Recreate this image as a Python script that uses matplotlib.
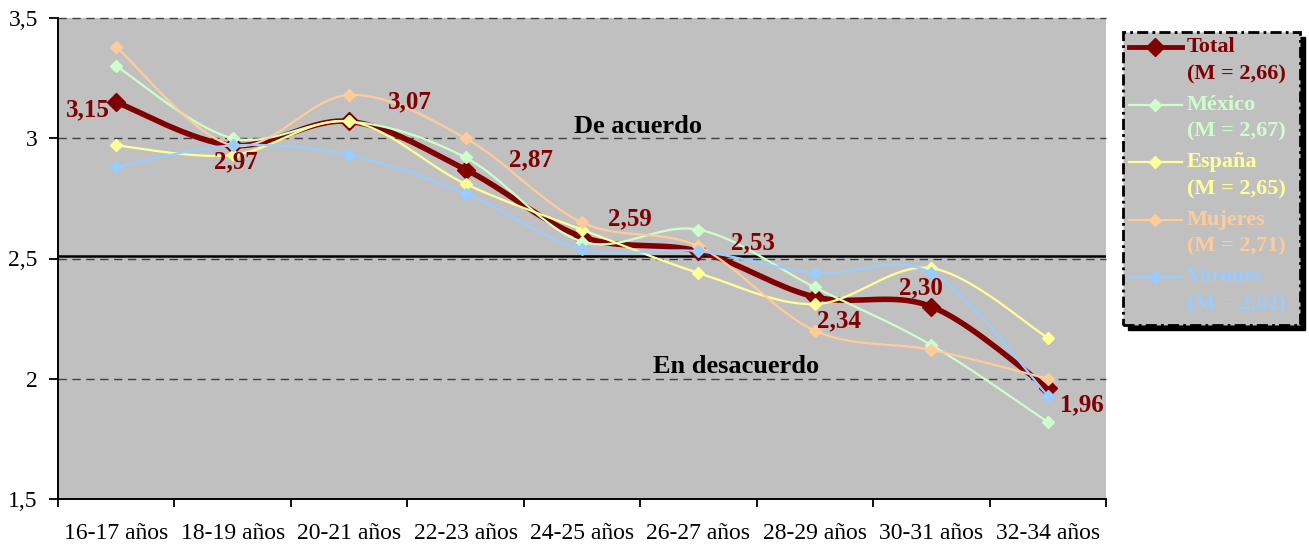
import numpy as np
import matplotlib.pyplot as plt
from matplotlib.patches import Rectangle

plt.rcParams['font.family'] = ['Liberation Serif', 'DejaVu Serif']

categories = ["16-17 años", "18-19 años", "20-21 años", "22-23 años", "24-25 años",
              "26-27 años", "28-29 años", "30-31 años", "32-34 años"]
total = [3.15, 2.97, 3.07, 2.87, 2.59, 2.53, 2.34, 2.30, 1.96]
mexico = [3.30, 3.00, 3.07, 2.92, 2.57, 2.62, 2.38, 2.14, 1.82]
espana = [2.97, 2.93, 3.07, 2.81, 2.62, 2.44, 2.31, 2.46, 2.17]
mujeres = [3.38, 2.97, 3.18, 3.00, 2.65, 2.55, 2.20, 2.12, 2.00]
varones = [2.88, 2.97, 2.93, 2.77, 2.54, 2.53, 2.44, 2.44, 1.93]
total_labels = ["3,15", "2,97", "3,07", "2,87", "2,59", "2,53", "2,34", "2,30", "1,96"]
legend_names = ["Total", "México", "España", "Mujeres", "Varones"]
legend_means = ["2,66", "2,67", "2,65", "2,71", "2,62"]

c_total = "#800000"
c_mex = "#CCFFCC"
c_esp = "#FFFF99"
c_muj = "#FFCC99"
c_var = "#99CCFF"


def smooth(y, n=20):
    # catmull-rom curve through the points, like excel's smoothed line
    y = np.asarray(y, float)
    x = np.arange(len(y), dtype=float)
    px = np.concatenate([[x[0]], x, [x[-1]]])
    py = np.concatenate([[y[0]], y, [y[-1]]])
    xs, ys = [], []
    t = np.linspace(0, 1, n, endpoint=False)
    for i in range(1, len(px) - 2):
        for P, out in ((px, xs), (py, ys)):
            p0, p1, p2, p3 = P[i - 1], P[i], P[i + 1], P[i + 2]
            b1 = p1 + (p2 - p0) / 6
            b2 = p2 - (p3 - p1) / 6
            out.extend((1 - t) ** 3 * p1 + 3 * (1 - t) ** 2 * t * b1
                       + 3 * (1 - t) * t ** 2 * b2 + t ** 3 * p2)
    xs.append(x[-1])
    ys.append(y[-1])
    return np.array(xs), np.array(ys)


fig = plt.figure(figsize=(13.09, 5.49), dpi=100)
ax = fig.add_axes([58 / 1309, 50 / 549, 1048 / 1309, 481 / 549])
ax.set_facecolor("#C0C0C0")

x = np.arange(len(categories))
for v in [3.5, 3.0, 2.5, 2.0]:
    ax.axhline(v, color="#404040", ls=(0, (6, 4)), lw=1, zorder=1, clip_on=False)
ax.axhline(2.512, color="black", lw=1.8, zorder=1)

sx, sy = smooth(total)
ax.plot(sx, sy, color=c_total, lw=4, zorder=2, solid_capstyle="round")
ax.plot(x, total, ls="none", marker="D", ms=9, color=c_total, zorder=2)
for vals, col in [(mexico, c_mex), (espana, c_esp), (mujeres, c_muj), (varones, c_var)]:
    sx, sy = smooth(vals)
    ax.plot(sx, sy, color=col, lw=1.6, zorder=3)
    ax.plot(x, vals, ls="none", marker="D", ms=6, color=col, zorder=3)

offsets = [(-0.24, -0.033), (0.03, -0.07), (0.52, 0.08), (0.56, 0.04), (0.41, 0.077),
           (0.47, 0.037), (0.21, -0.10), (-0.09, 0.08), (0.29, -0.07)]
for i, (lab, (dx, dy)) in enumerate(zip(total_labels, offsets)):
    ax.text(x[i] + dx, total[i] + dy, lab, color=c_total, fontsize=18, fontweight="bold",
            ha="center", va="center", zorder=4)

ax.text(4.48, 3.047, "De acuerdo", fontsize=19, fontweight="bold", ha="center", va="center")
ax.text(5.32, 2.053, "En desacuerdo", fontsize=19, fontweight="bold", ha="center", va="center")

ax.set_xlim(-0.5, len(categories) - 0.5)
ax.set_ylim(1.5, 3.5)
ax.set_yticks([1.5, 2.0, 2.5, 3.0, 3.5])
ax.set_yticklabels(["1,5", "2", "2,5", "3", "3,5"], fontsize=17)
ax.set_xticks(np.arange(len(categories) + 1) - 0.5)
ax.set_xticklabels([])
ax.set_xticks(x, minor=True)
ax.set_xticklabels(categories, minor=True, fontsize=17)
ax.tick_params(axis="x", which="minor", length=0, pad=17)
ax.tick_params(axis="x", which="major", length=6, width=1.3, direction="out")
ax.tick_params(axis="y", length=6.5, width=1.3, direction="out", pad=8)
for s in ["top", "right"]:
    ax.spines[s].set_visible(False)
for s in ["left", "bottom"]:
    ax.spines[s].set_linewidth(1.4)

# legend box drawn by hand
lx0, ly0, lw, lh = 1123 / 1309, 224 / 549, 177 / 1309, 293 / 549
fig.patches.append(Rectangle((lx0 + 5 / 1309, ly0 - 5 / 549), lw, lh, transform=fig.transFigure,
                             facecolor="black", edgecolor="black", zorder=-2))
fig.patches.append(Rectangle((lx0, ly0), lw, lh, transform=fig.transFigure, facecolor="#C0C0C0",
                             edgecolor="black", lw=2, ls=(0, (4, 1.5, 1, 1.5)), zorder=-1))
leg = fig.add_axes([lx0, ly0, lw, lh])
leg.set_xlim(0, 177)
leg.set_ylim(293, 0)
leg.axis("off")
leg_colors = [c_total, c_mex, c_esp, c_muj, c_var]
for i, (name, m, col) in enumerate(zip(legend_names, legend_means, leg_colors)):
    yy = 15 + i * 57.5
    if i == 0:
        leg.plot([6, 59], [yy, yy], color=col, lw=3.5)
        leg.plot([32], [yy], marker="D", ms=9, color=col)
    else:
        leg.plot([6, 59], [yy, yy], color=col, lw=1.6)
        leg.plot([32], [yy], marker="D", ms=6, color=col)
    leg.text(64, yy, name, color=col, fontsize=16, fontweight="bold", va="center")
    leg.text(64, yy + 27, "(M = " + m + ")", color=col, fontsize=16, fontweight="bold", va="center")

fig.savefig("out.png", dpi=100)
